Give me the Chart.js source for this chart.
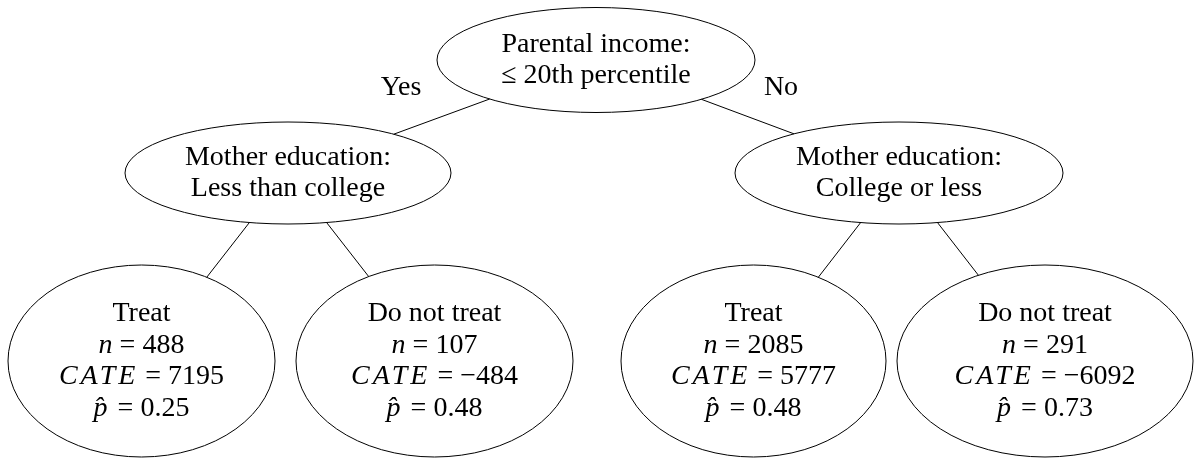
<!DOCTYPE html>
<html><head><meta charset="utf-8">
<script src="https://cdn.jsdelivr.net/npm/chart.js@4/dist/chart.umd.min.js"></script>
<style>html,body{margin:0;padding:0;background:#fff;}#wrap{width:1198px;height:458px;}</style>
</head><body><div id="wrap"><canvas id="c" width="1198" height="458"></canvas></div>
<script>
// ---- tree content ($...$ = math italic) ----
const nodeLines = [
  ['Parental income:', '\u2264 20th percentile'],
  ['Mother education:', 'Less than college'],
  ['Mother education:', 'College or less'],
  ['Treat', '$n$ = 488', '$CATE$ = 7195', '$p\u0302$ = 0.25'],
  ['Do not treat', '$n$ = 107', '$CATE$ = \u2212484', '$p\u0302$ = 0.48'],
  ['Treat', '$n$ = 2085', '$CATE$ = 5777', '$p\u0302$ = 0.48'],
  ['Do not treat', '$n$ = 291', '$CATE$ = \u22126092', '$p\u0302$ = 0.73']
];
const nodeParent = [-1, 0, 0, 1, 1, 2, 2];
const edgeLabels = ['', 'Yes', 'No', '', '', '', ''];

// ---- layout (chart units = pixels) ----
const nodeX  = [596, 288, 899, 141.5, 434.5, 753.5, 1045];
const nodeY  = [60, 173, 173, 361, 361, 361, 361];
const nodeRx = [159, 163, 164, 133.5, 138.5, 132.5, 148];
const nodeRy = [52.5, 51, 51, 96, 96, 96, 96];
const edgeLabelX = [0, 401, 781, 0, 0, 0, 0];
const edgeLabelY = [0, 95, 95, 0, 0, 0, 0];

const FONT_SIZE = 28, FAMILY = '"Liberation Serif", "Times New Roman", serif';
const LINE_H = 31.5, BASE_K = 7.5;

function clipPoint(i, dx, dy) {
  const t = 1 / Math.sqrt((dx / nodeRx[i]) ** 2 + (dy / nodeRy[i]) ** 2);
  return { x: nodeX[i] + dx * t, y: nodeY[i] + dy * t };
}

const edgeDatasets = [];
nodeParent.forEach((p, c) => {
  if (p < 0) return;
  const dx = nodeX[c] - nodeX[p], dy = nodeY[c] - nodeY[p];
  edgeDatasets.push({
    type: 'scatter', showLine: true, borderColor: '#000', borderWidth: 1,
    pointRadius: 0, data: [clipPoint(p, dx, dy), clipPoint(c, -dx, -dy)]
  });
});

function parseLine(s) {
  return s.split('$').map((t, k) => ({ t, it: k % 2 === 1 })).filter(s => s.t.length);
}
function setFont(ctx, it, t) {
  ctx.font = (it ? 'italic ' : '') + FONT_SIZE + 'px ' + FAMILY;
  ctx.letterSpacing = (it && t.length > 1) ? '3px' : '0px';
}
function drawRich(ctx, line, cx, by) {
  const segs = parseLine(line);
  let w = 0;
  segs.forEach(s => { setFont(ctx, s.it, s.t); s.w = ctx.measureText(s.t).width; w += s.w; });
  let x = cx - w / 2;
  segs.forEach(s => { setFont(ctx, s.it, s.t); ctx.fillText(s.t, x, by); x += s.w; });
  ctx.letterSpacing = '0px';
}

const treePlugin = {
  id: 'tree',
  afterDatasetsDraw(chart) {
    const ctx = chart.ctx, xs = chart.scales.x, ys = chart.scales.y;
    ctx.save();
    ctx.strokeStyle = '#000'; ctx.lineWidth = 1; ctx.fillStyle = '#000';
    ctx.textAlign = 'left'; ctx.textBaseline = 'alphabetic';
    nodeLines.forEach((lines, i) => {
      const px = xs.getPixelForValue(nodeX[i]), py = ys.getPixelForValue(nodeY[i]);
      const rx = Math.abs(xs.getPixelForValue(nodeX[i] + nodeRx[i]) - px);
      const ry = Math.abs(ys.getPixelForValue(nodeY[i] + nodeRy[i]) - py);
      ctx.beginPath(); ctx.ellipse(px, py, rx, ry, 0, 0, Math.PI * 2); ctx.stroke();
      const n = lines.length;
      lines.forEach((ln, k) => {
        const by = ys.getPixelForValue(nodeY[i] + (k - (n - 1) / 2) * LINE_H + BASE_K);
        drawRich(ctx, ln, px, by);
      });
      if (edgeLabels[i]) {
        drawRich(ctx, edgeLabels[i], xs.getPixelForValue(edgeLabelX[i]), ys.getPixelForValue(edgeLabelY[i]));
      }
    });
    ctx.restore();
  }
};

new Chart(document.getElementById('c'), {
  type: 'scatter',
  data: { datasets: [
    { data: nodeX.map((x, i) => ({ x, y: nodeY[i] })), pointRadius: 0 },
    ...edgeDatasets
  ] },
  options: {
    responsive: false, animation: false,
    layout: { padding: 0 },
    scales: {
      x: { type: 'linear', min: 0, max: 1198, display: false },
      y: { type: 'linear', min: 0, max: 458, reverse: true, display: false }
    },
    plugins: { legend: { display: false }, tooltip: { enabled: false } }
  },
  plugins: [treePlugin]
});
</script></body></html>
